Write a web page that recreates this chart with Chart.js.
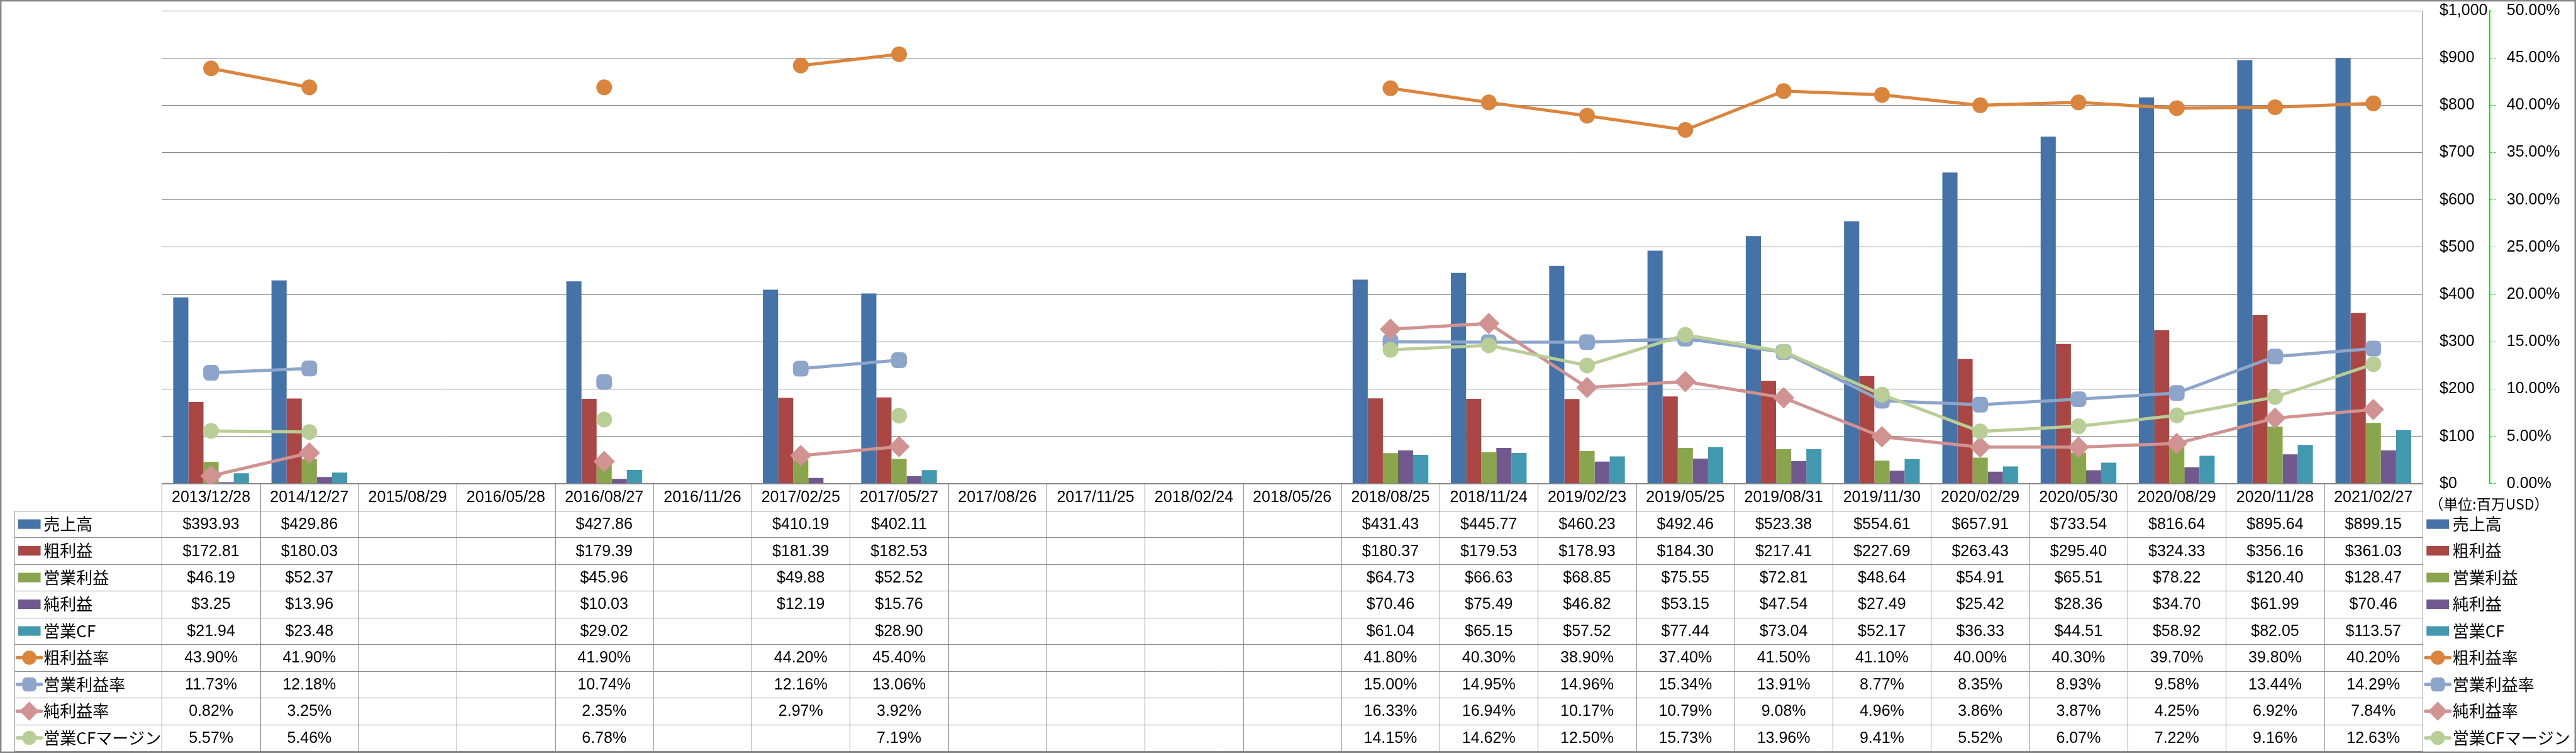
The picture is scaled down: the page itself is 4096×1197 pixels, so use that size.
<!DOCTYPE html>
<html>
<head>
<meta charset="utf-8">
<title>業績推移</title>
<script src="https://cdn.jsdelivr.net/npm/chart.js"></script>
<style>
  html, body { margin: 0; padding: 0; background: #fff; }
  canvas { display: block; }
</style>
</head>
<body>
<canvas id="finChart" width="4096" height="1197"></canvas>
<script>
// everything below was measured on the 5133px wide original, so scale it down
const S = 0.797;

const categories = [
  '2013/12/28', '2014/12/27', '2015/08/29', '2016/05/28', '2016/08/27', '2016/11/26',
  '2017/02/25', '2017/05/27', '2017/08/26', '2017/11/25', '2018/02/24', '2018/05/26',
  '2018/08/25', '2018/11/24', '2019/02/23', '2019/05/25', '2019/08/31', '2019/11/30',
  '2020/02/29', '2020/05/30', '2020/08/29', '2020/11/28', '2021/02/27'
];

// 百万USD
const sales      = [393.93, 429.86, null, null, 427.86, null, 410.19, 402.11, null, null, null, null, 431.43, 445.77, 460.23, 492.46, 523.38, 554.61, 657.91, 733.54, 816.64, 895.64, 899.15];
const grossProfit = [172.81, 180.03, null, null, 179.39, null, 181.39, 182.53, null, null, null, null, 180.37, 179.53, 178.93, 184.30, 217.41, 227.69, 263.43, 295.40, 324.33, 356.16, 361.03];
const opIncome   = [46.19, 52.37, null, null, 45.96, null, 49.88, 52.52, null, null, null, null, 64.73, 66.63, 68.85, 75.55, 72.81, 48.64, 54.91, 65.51, 78.22, 120.40, 128.47];
const netIncome  = [3.25, 13.96, null, null, 10.03, null, 12.19, 15.76, null, null, null, null, 70.46, 75.49, 46.82, 53.15, 47.54, 27.49, 25.42, 28.36, 34.70, 61.99, 70.46];
const opCF       = [21.94, 23.48, null, null, 29.02, null, null, 28.90, null, null, null, null, 61.04, 65.15, 57.52, 77.44, 73.04, 52.17, 36.33, 44.51, 58.92, 82.05, 113.57];

// %
const grossMargin = [43.90, 41.90, null, null, 41.90, null, 44.20, 45.40, null, null, null, null, 41.80, 40.30, 38.90, 37.40, 41.50, 41.10, 40.00, 40.30, 39.70, 39.80, 40.20];
const opMargin    = [11.73, 12.18, null, null, 10.74, null, 12.16, 13.06, null, null, null, null, 15.00, 14.95, 14.96, 15.34, 13.91, 8.77, 8.35, 8.93, 9.58, 13.44, 14.29];
const netMargin   = [0.82, 3.25, null, null, 2.35, null, 2.97, 3.92, null, null, null, null, 16.33, 16.94, 10.17, 10.79, 9.08, 4.96, 3.86, 3.87, 4.25, 6.92, 7.84];
const cfMargin    = [5.57, 5.46, null, null, 6.78, null, null, 7.19, null, null, null, null, 14.15, 14.62, 12.50, 15.73, 13.96, 9.41, 5.52, 6.07, 7.22, 9.16, 12.63];

const money = v => '$' + v.toFixed(2);
const pct = v => v.toFixed(2) + '%';

const series = [
  { label: '売上高', data: sales, kind: 'bar', color: '#4572A7', fmt: money },
  { label: '粗利益', data: grossProfit, kind: 'bar', color: '#AA4643', fmt: money },
  { label: '営業利益', data: opIncome, kind: 'bar', color: '#89A54E', fmt: money },
  { label: '純利益', data: netIncome, kind: 'bar', color: '#71588F', fmt: money },
  { label: '営業CF', data: opCF, kind: 'bar', color: '#4198AF', fmt: money },
  { label: '粗利益率', data: grossMargin, kind: 'line', color: '#DB843D', pointStyle: 'circle', radius: 12.5, fmt: pct },
  { label: '営業利益率', data: opMargin, kind: 'line', color: '#8EA5CB', pointStyle: 'rectRounded', radius: 14.5, fmt: pct },
  { label: '純利益率', data: netMargin, kind: 'line', color: '#D19392', pointStyle: 'rectRot', radius: 17, fmt: pct },
  { label: '営業CFマージン', data: cfMargin, kind: 'line', color: '#B9CD96', pointStyle: 'circle', radius: 12.5, fmt: pct }
];

const datasets = series.map((s, i) => {
  if (s.kind === 'bar') {
    return {
      type: 'bar', label: s.label, data: s.data, yAxisID: 'y',
      backgroundColor: s.color, borderWidth: 0,
      categoryPercentage: 0.77, barPercentage: 1, order: 10
    };
  }
  return {
    type: 'line', label: s.label, data: s.data, yAxisID: 'y1',
    borderColor: s.color, backgroundColor: s.color, borderWidth: 5,
    pointStyle: s.pointStyle, pointRadius: s.radius, pointBorderWidth: 0,
    pointBackgroundColor: s.color, tension: 0, spanGaps: false,
    order: 9 - i  // later series on top, like the original
  };
});

function drawKey(ctx, s, cx, cy) {
  ctx.fillStyle = s.color;
  if (s.kind === 'bar') {
    ctx.fillRect(cx - 22.5 * S, cy - 9.5 * S, 45 * S, 19 * S);
    return;
  }
  ctx.strokeStyle = s.color;
  ctx.lineWidth = 7 * S;
  ctx.lineCap = 'round';
  ctx.beginPath();
  ctx.moveTo(cx - 24 * S, cy);
  ctx.lineTo(cx + 24 * S, cy);
  ctx.stroke();
  if (Chart.helpers && Chart.helpers.drawPoint) {
    Chart.helpers.drawPoint(ctx, { pointStyle: s.pointStyle, radius: s.radius * 0.9, rotation: 0, borderWidth: 0 }, cx, cy);
  } else {
    ctx.beginPath();
    ctx.arc(cx, cy, s.radius * 0.9, 0, Math.PI * 2);
    ctx.fill();
  }
}

// data table under the plot, columns taken from the x scale
const tablePlugin = {
  id: 'dataTable',
  beforeDraw(chart) {
    const ctx = chart.ctx;
    ctx.save();
    ctx.fillStyle = '#fff';
    ctx.fillRect(0, 0, chart.width, chart.height);
    ctx.restore();
  },
  afterDraw(chart) {
    const { ctx, chartArea: area, scales: { x } } = chart;
    const colW = area.width / categories.length;
    const headTop = area.bottom;
    const rowTop = 1018.7 * S;
    const rowH = 53.3 * S;
    const tableLeft = 29 * S;
    const tableBottom = rowTop + rowH * series.length;
    const px = v => Math.round(v) + 0.5;

    ctx.save();
    ctx.strokeStyle = '#8c8c8c';
    ctx.lineWidth = 1;
    ctx.beginPath();
    ctx.moveTo(area.left, px(headTop));
    ctx.lineTo(area.right, px(headTop));
    for (let k = 0; k <= series.length; k++) {
      ctx.moveTo(tableLeft, px(rowTop + k * rowH));
      ctx.lineTo(area.right, px(rowTop + k * rowH));
    }
    ctx.moveTo(px(tableLeft), rowTop);
    ctx.lineTo(px(tableLeft), tableBottom);
    for (let j = 0; j <= categories.length; j++) {
      ctx.moveTo(px(area.left + j * colW), headTop);
      ctx.lineTo(px(area.left + j * colW), tableBottom);
    }
    ctx.stroke();

    ctx.fillStyle = '#000';
    ctx.textAlign = 'center';
    ctx.textBaseline = 'middle';
    ctx.font = '25px "Liberation Sans"';
    categories.forEach((c, i) => {
      ctx.fillText(c, x.getPixelForValue(i), (headTop + rowTop) / 2 + 1);
    });
    series.forEach((s, k) => {
      const cy = rowTop + rowH * (k + 0.5) + 1;
      s.data.forEach((v, i) => {
        if (v != null) ctx.fillText(s.fmt(v), x.getPixelForValue(i), cy);
      });
    });

    // legend on both sides of the table
    ctx.textAlign = 'left';
    series.forEach((s, k) => {
      const cy = rowTop + rowH * (k + 0.5);
      drawKey(ctx, s, 58.5 * S, cy);
      drawKey(ctx, s, 4863.5 * S, cy);
      ctx.fillStyle = '#000';
      ctx.font = '26px "Noto Sans CJK JP"';
      ctx.fillText(s.label, 87 * S, cy);
      ctx.fillText(s.label, 4893 * S, cy);
    });

    ctx.font = '23px "Noto Sans CJK JP"';
    ctx.fillStyle = '#000';
    ctx.fillText('（単位:百万USD）', 4846 * S, 1005 * S);

    ctx.strokeStyle = '#868686';
    ctx.lineWidth = 2.4;
    ctx.strokeRect(1.2, 1.2, chart.width - 2.4, chart.height - 2.4);
    ctx.restore();
  }
};

// vertical scales add tick padding above/below the area; the layout padding already covers that
function fitWidth(w) {
  return sc => {
    sc.width = w;
    sc.paddingTop = 0;
    sc.paddingBottom = 0;
  };
}

Chart.defaults.font.family = '"Liberation Sans", sans-serif';
Chart.defaults.color = '#000';

new Chart(document.getElementById('finChart'), {
  type: 'bar',
  data: { labels: categories, datasets: datasets },
  options: {
    responsive: false,
    animation: false,
    events: [],
    layout: { padding: { left: 323 * S, top: 21 * S, right: 0, bottom: 1197 - 964.7 * S } },
    plugins: {
      legend: { display: false },
      tooltip: { enabled: false }
    },
    scales: {
      x: { display: false, offset: true },
      y: {
        position: 'right', weight: 1, min: 0, max: 1000,
        ticks: {
          stepSize: 100, padding: 34 * S, color: '#000', font: { size: 25 },
          callback: v => '$' + v.toLocaleString('en-US')
        },
        grid: { color: '#868686', lineWidth: 1, drawTicks: false },
        border: { display: true, color: '#868686', width: 1 },
        afterFit: fitWidth((4967 - 4833) * S)
      },
      y1: {
        position: 'right', weight: 2, min: 0, max: 50,
        ticks: {
          stepSize: 5, padding: 22 * S, color: '#000', font: { size: 25 },
          callback: v => v.toFixed(2) + '%'
        },
        grid: { drawOnChartArea: false, color: '#00dd00', tickLength: 12 * S, tickBorderDash: [3, 3] },
        border: { display: true, color: '#00dd00', dash: [4, 3], width: 1.5 },
        afterFit: fitWidth(4096 - 4967 * S)
      }
    }
  },
  plugins: [tablePlugin]
});
</script>
</body>
</html>
